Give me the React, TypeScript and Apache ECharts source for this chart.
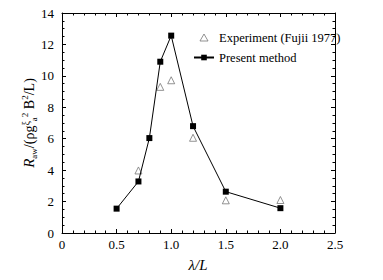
import React, { useEffect, useRef } from "react";
import * as echarts from "echarts";

const presentX = [0.5, 0.7, 0.8, 0.9, 1.0, 1.2, 1.5, 2.0];
const presentY = [1.55, 3.28, 6.04, 10.9, 12.56, 6.8, 2.63, 1.58];
const expX = [0.7, 0.9, 1.0, 1.2, 1.5, 2.0];
const expY = [3.98, 9.3, 9.72, 6.06, 2.08, 2.1];
const xTicks = [0, 0.5, 1.0, 1.5, 2.0, 2.5];
const yTicks = [0, 2, 4, 6, 8, 10, 12, 14];

const FONT = "Liberation Serif";

export default function App() {
  const ref = useRef<HTMLDivElement>(null);
  useEffect(() => {
    if (!ref.current) return;
    const chart = echarts.init(ref.current, null, { renderer: "svg" });
    const baseX = (pos: "bottom" | "top", showLabel: boolean) => ({
      type: "value",
      position: pos,
      min: xTicks[0],
      max: xTicks[xTicks.length - 1],
      interval: 0.5,
      axisLine: { show: true, onZero: false, lineStyle: { color: "#000", width: 1 } },
      axisTick: { show: true, inside: true, length: 4, lineStyle: { color: "#000" } },
      minorTick: { show: true, splitNumber: 5, length: 2.5, lineStyle: { color: "#000" } },
      splitLine: { show: false },
      axisLabel: {
        show: showLabel,
        color: "#000",
        fontFamily: FONT,
        fontSize: 13,
        margin: 5,
        formatter: (v: number) => (v === 0 ? "0" : v.toFixed(1)),
      },
    });
    const baseY = (pos: "left" | "right", showLabel: boolean) => ({
      type: "value",
      position: pos,
      min: yTicks[0],
      max: yTicks[yTicks.length - 1],
      interval: 2,
      axisLine: { show: true, onZero: false, lineStyle: { color: "#000", width: 1 } },
      axisTick: { show: true, inside: true, length: 4, lineStyle: { color: "#000" } },
      minorTick: { show: true, splitNumber: 4, length: 2.5, lineStyle: { color: "#000" } },
      splitLine: { show: false },
      axisLabel: {
        show: showLabel,
        color: "#000",
        fontFamily: FONT,
        fontSize: 13,
        margin: 8,
      },
    });
    chart.setOption({
      animation: false,
      backgroundColor: "#fff",
      grid: { left: 62, right: 48, top: 13, bottom: 47, containLabel: false },
      xAxis: [baseX("bottom", true), baseX("top", false)],
      yAxis: [baseY("left", true), baseY("right", false)],
      legend: {
        orient: "vertical",
        left: 188,
        top: 26,
        itemWidth: 20,
        itemHeight: 7,
        itemGap: 7,
        symbolKeepAspect: true,
        textStyle: { fontFamily: FONT, fontSize: 12.5, color: "#000", padding: [0, 0, 0, 0] },
        data: [
          {
            name: "Experiment (Fujii 1977)",
            icon: "path://M5,0 L10,8.66 L0,8.66 Z",
            itemStyle: { color: "#fff", borderColor: "#777", borderWidth: 1 },
          },
          { name: "Present method" },
        ],
      },
      series: [
        {
          name: "Experiment (Fujii 1977)",
          type: "scatter",
          symbol: "triangle",
          symbolSize: 7,
          itemStyle: { color: "#fff", borderColor: "#777", borderWidth: 1 },
          data: expX.map((x, i) => [x, expY[i]]),
          z: 1,
        },
        {
          name: "Present method",
          type: "line",
          symbol: "rect",
          symbolSize: 6,
          showSymbol: true,
          lineStyle: { color: "#000", width: 1 },
          itemStyle: { color: "#000" },
          data: presentX.map((x, i) => [x, presentY[i]]),
          z: 3,
        },
      ],
      graphic: [
        {
          type: "text",
          x: 198,
          y: 265,
          style: {
            text: "λ/L",
            fontFamily: FONT,
            fontStyle: "italic",
            fontSize: 15,
            fill: "#000",
            align: "center",
            verticalAlign: "middle",
          },
        },
        {
          type: "text",
          x: 29,
          y: 123,
          rotation: Math.PI / 2,
          style: {
            text: "{ri|R}{sub|aw}{n|/(ρg}{sm|ξ}{sub|a}{sup|2}{n| B}{sup|2}{n|/L)}",
            align: "center",
            verticalAlign: "middle",
            fontFamily: FONT,
            fontSize: 14,
            fill: "#000",
            rich: {
              n: { fontFamily: FONT, fontSize: 14, lineHeight: 18, verticalAlign: "middle" },
              ri: { fontFamily: FONT, fontSize: 15, fontStyle: "italic", lineHeight: 18, verticalAlign: "middle" },
              sub: { fontFamily: FONT, fontSize: 9, lineHeight: 18, verticalAlign: "bottom" },
              sup: { fontFamily: FONT, fontSize: 9, lineHeight: 18, verticalAlign: "top" },
              sm: { fontFamily: FONT, fontSize: 10, lineHeight: 18, verticalAlign: "top" },
            },
          },
        },
      ],
    });
    return () => chart.dispose();
  }, []);
  return <div ref={ref} style={{ width: 383, height: 280, position: "absolute", left: 0, top: 0 }} />;
}
